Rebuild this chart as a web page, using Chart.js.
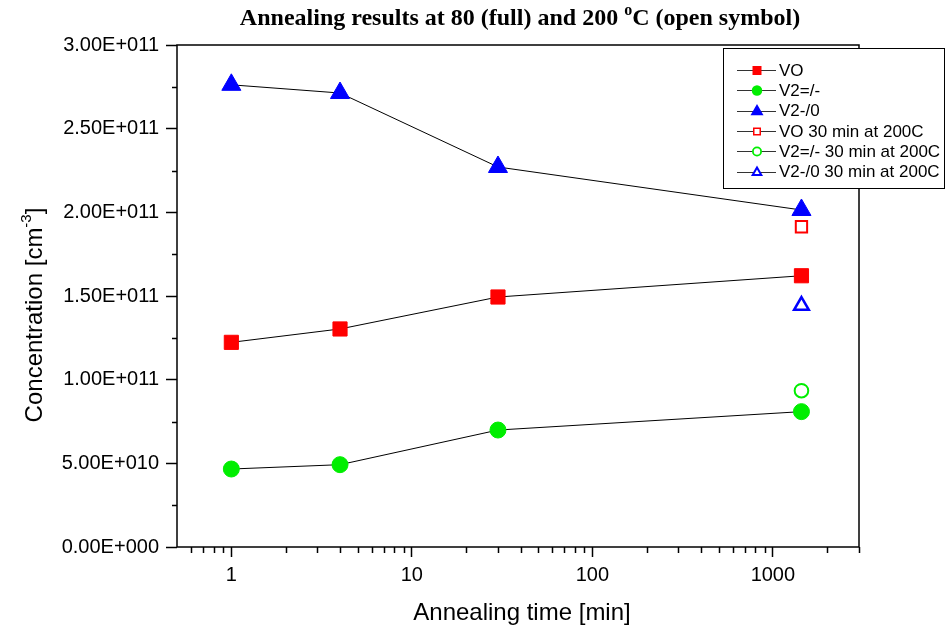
<!DOCTYPE html>
<html>
<head>
<meta charset="utf-8">
<script src="https://cdn.jsdelivr.net/npm/chart.js@4/dist/chart.umd.min.js"></script>
<style>
  html, body { margin: 0; padding: 0; background: #fff; }
  #wrap { width: 945px; height: 627px; }
</style>
</head>
<body>
<div id="wrap"><canvas id="chart" width="945" height="627"></canvas></div>
<script>
// annealing times [min]
const times = [1, 4, 30, 1440];
const voFull = [1.223e11, 1.303e11, 1.494e11, 1.621e11];
const v2mFull = [4.66e10, 4.92e10, 6.99e10, 8.09e10];
const v20Full = [2.762e11, 2.713e11, 2.271e11, 2.014e11];

// 30 min at 200C
const times200 = [1440];
const vo200 = [1.914e11];
const v2m200 = [9.34e10];
const v20200 = [1.443e11];

const legendLabels = ["VO", "V2=/-", "V2-/0", "VO 30 min at 200C", "V2=/- 30 min at 200C", "V2-/0 30 min at 200C"];
const xMajorTicks = [1, 10, 100, 1000];
const xMin = 0.5, xMax = 3000;
const yMin = 0, yMax = 3e11, yStep = 5e10;

const RED = '#ff0000', GREEN = '#00ee00', BLUE = '#0000ff';

const toPoints = (xs, ys) => xs.map((x, i) => ({ x, y: ys[i] }));

const fmtE = v => {
    if (v === 0) return '0.00E+000';
    const e = Math.floor(Math.log10(v) + 1e-9);
    const m = v / Math.pow(10, e);
    return m.toFixed(2) + 'E+' + String(e).padStart(3, '0');
}

const filled = (label, data, color, style, r) => ({
    label, data,
    showLine: true,
    borderColor: '#000',
    borderWidth: 1,
    pointStyle: style,
    pointRadius: r,
    pointBackgroundColor: color,
    pointBorderColor: color,
    pointBorderWidth: 1
});

const open = (label, data, color, style, r, w) => ({
    label, data,
    showLine: false,
    pointStyle: style,
    pointRadius: r,
    pointBackgroundColor: 'rgba(255,255,255,0)',
    pointBorderColor: color,
    pointBorderWidth: w
});

const datasets = [
    filled(legendLabels[0], toPoints(times, voFull), RED, 'rect', 10),
    filled(legendLabels[1], toPoints(times, v2mFull), GREEN, 'circle', 8),
    filled(legendLabels[2], toPoints(times, v20Full), BLUE, 'triangle', 11),
    open(legendLabels[3], toPoints(times200, vo200), RED, 'rect', 8, 2),
    open(legendLabels[4], toPoints(times200, v2m200), GREEN, 'circle', 6.8, 2),
    open(legendLabels[5], toPoints(times200, v20200), BLUE, 'triangle', 8.5, 2.5)
];

// legend marker look: [style, color, filled, size, stroke]
const legendMarks = [
    ['rect', RED, true, 9, 0],
    ['circle', GREEN, true, 10.5, 0],
    ['triangle', BLUE, true, 13, 0],
    ['rect', RED, false, 8, 1.5],
    ['circle', GREEN, false, 10, 1.8],
    ['triangle', BLUE, false, 12, 2]
];

const drawMark = (ctx, style, x, y, size, color, isFilled, lw) => {
    ctx.beginPath();
    if (style === 'rect') {
        const s = isFilled ? size : size - lw;
        ctx.rect(x - s / 2, y - s / 2, s, s);
    } else if (style === 'circle') {
        const s = isFilled ? size : size - lw;
        ctx.arc(x, y, s / 2, 0, Math.PI * 2);
    } else {
        const w = isFilled ? size : size - lw * 1.7;
        const h = w * 0.866;
        ctx.moveTo(x, y - h * 2 / 3);
        ctx.lineTo(x + w / 2, y + h / 3);
        ctx.lineTo(x - w / 2, y + h / 3);
        ctx.closePath();
    }
    if (isFilled) {
        ctx.fillStyle = color;
        ctx.fill();
    } else {
        ctx.fillStyle = '#fff';
        ctx.fill();
        ctx.strokeStyle = color;
        ctx.lineWidth = lw;
        ctx.stroke();
    }
}

const framePlugin = {
    id: 'frame',
    beforeDatasetsDraw(chart) {
        const { ctx, chartArea: a, scales } = chart;
        ctx.save();
        ctx.strokeStyle = '#000';
        ctx.lineWidth = 1.5;
        ctx.strokeRect(a.left, a.top, a.right - a.left, a.bottom - a.top);

        // minor ticks x
        ctx.lineWidth = 1.5;
        ctx.beginPath();
        for (const d of [0.1, 1, 10, 100, 1000]) {
            for (let k = 2; k <= 9; k++) {
                const v = k * d;
                if (v <= xMin || v > xMax) continue;
                const px = Math.round(scales.x.getPixelForValue(v)) + 0.5;
                ctx.moveTo(px, a.bottom);
                ctx.lineTo(px, a.bottom + 6);
            }
        }
        // minor ticks y
        for (let v = yMin + yStep / 2; v < yMax; v += yStep) {
            const py = Math.round(scales.y.getPixelForValue(v)) + 0.5;
            ctx.moveTo(a.left, py);
            ctx.lineTo(a.left - 5, py);
        }
        ctx.stroke();
        ctx.restore();
    },
    afterDraw(chart) {
        const { ctx, chartArea: a } = chart;
        ctx.save();

        // title with superscript
        const t1 = 'Annealing results at 80 (full) and 200 ';
        const t2 = 'o';
        const t3 = 'C (open symbol)';
        const big = 'bold 24px "Liberation Serif", "DejaVu Serif", serif';
        const small = 'bold 16px "Liberation Serif", "DejaVu Serif", serif';
        ctx.fillStyle = '#000';
        ctx.textBaseline = 'alphabetic';
        ctx.textAlign = 'left';
        ctx.font = big;
        const w1 = ctx.measureText(t1).width, w3 = ctx.measureText(t3).width;
        ctx.font = small;
        const w2 = ctx.measureText(t2).width;
        let tx = (a.left + a.right) / 2 + 2 - (w1 + w2 + w3) / 2;
        const ty = 25;
        ctx.font = big;
        ctx.fillText(t1, tx, ty);
        tx += w1;
        ctx.font = small;
        ctx.fillText(t2, tx, ty - 10);
        tx += w2;
        ctx.font = big;
        ctx.fillText(t3, tx, ty);

        // y title
        const y1 = 'Concentration [cm', y2 = '-3', y3 = ']';
        const yf = '24px "Liberation Sans", Arial, sans-serif';
        const ys = '15px "Liberation Sans", Arial, sans-serif';
        ctx.font = yf;
        const a1 = ctx.measureText(y1).width, a3 = ctx.measureText(y3).width;
        ctx.font = ys;
        const a2 = ctx.measureText(y2).width;
        ctx.translate(42, 315);
        ctx.rotate(-Math.PI / 2);
        let sx = -(a1 + a2 + a3) / 2;
        ctx.font = yf;
        ctx.fillText(y1, sx, 0);
        sx += a1;
        ctx.font = ys;
        ctx.fillText(y2, sx, -11);
        sx += a2;
        ctx.font = yf;
        ctx.fillText(y3, sx, 0);
        ctx.setTransform(1, 0, 0, 1, 0, 0);

        // x title
        ctx.font = yf;
        ctx.textAlign = 'center';
        ctx.fillText('Annealing time [min]', 522, 620);

        // legend box
        const bx = 723.5, by = 48.5, bw = 221, bh = 140;
        ctx.fillStyle = '#fff';
        ctx.fillRect(bx, by, bw, bh);
        ctx.strokeStyle = '#000';
        ctx.lineWidth = 1;
        ctx.strokeRect(bx, by, bw, bh);

        ctx.font = '17px "Liberation Sans", Arial, sans-serif';
        ctx.textAlign = 'left';
        ctx.textBaseline = 'middle';
        legendLabels.forEach((label, i) => {
            const ry = 70 + i * 20.3;
            ctx.strokeStyle = '#333';
            ctx.lineWidth = 1;
            ctx.beginPath();
            ctx.moveTo(737, Math.round(ry) + 0.5);
            ctx.lineTo(776, Math.round(ry) + 0.5);
            ctx.stroke();
            const [style, color, isFilled, size, lw] = legendMarks[i];
            drawMark(ctx, style, 757, Math.round(ry) + 0.5, size, color, isFilled, lw);
            ctx.fillStyle = '#000';
            ctx.fillText(label, 779, ry + 1);
        });
        ctx.restore();
    }
};

Chart.defaults.color = '#000';
Chart.defaults.font.family = '"Liberation Sans", Arial, sans-serif';

new Chart(document.getElementById('chart'), {
    type: 'scatter',
    data: { datasets },
    plugins: [framePlugin],
    options: {
        responsive: false,
        animation: false,
        events: [],
        layout: { padding: { left: 0, top: 45, right: 86, bottom: 0 } },
        plugins: {
            legend: { display: false },
            title: { display: false },
            tooltip: { enabled: false }
        },
        scales: {
            x: {
                type: 'logarithmic',
                min: xMin,
                max: xMax,
                afterBuildTicks: scale => {
                    scale.ticks = xMajorTicks.map(v => ({ value: v }));
                },
                afterFit: scale => { scale.height = 80; },
                border: { display: false },
                grid: {
                    drawOnChartArea: false,
                    drawTicks: true,
                    tickLength: 10,
                    tickColor: '#000',
                    tickWidth: 1.5
                },
                ticks: {
                    autoSkip: false,
                    maxRotation: 0,
                    padding: 6,
                    font: { size: 20 },
                    callback: v => String(v)
                }
            },
            y: {
                min: yMin,
                max: yMax,
                afterFit: scale => { scale.width = 177; },
                border: { display: false },
                grid: {
                    drawOnChartArea: false,
                    drawTicks: true,
                    tickLength: 11,
                    tickColor: '#000',
                    tickWidth: 1.5
                },
                ticks: {
                    stepSize: yStep,
                    padding: 7,
                    font: { size: 20 },
                    callback: v => fmtE(v)
                }
            }
        }
    }
});
</script>
</body>
</html>
